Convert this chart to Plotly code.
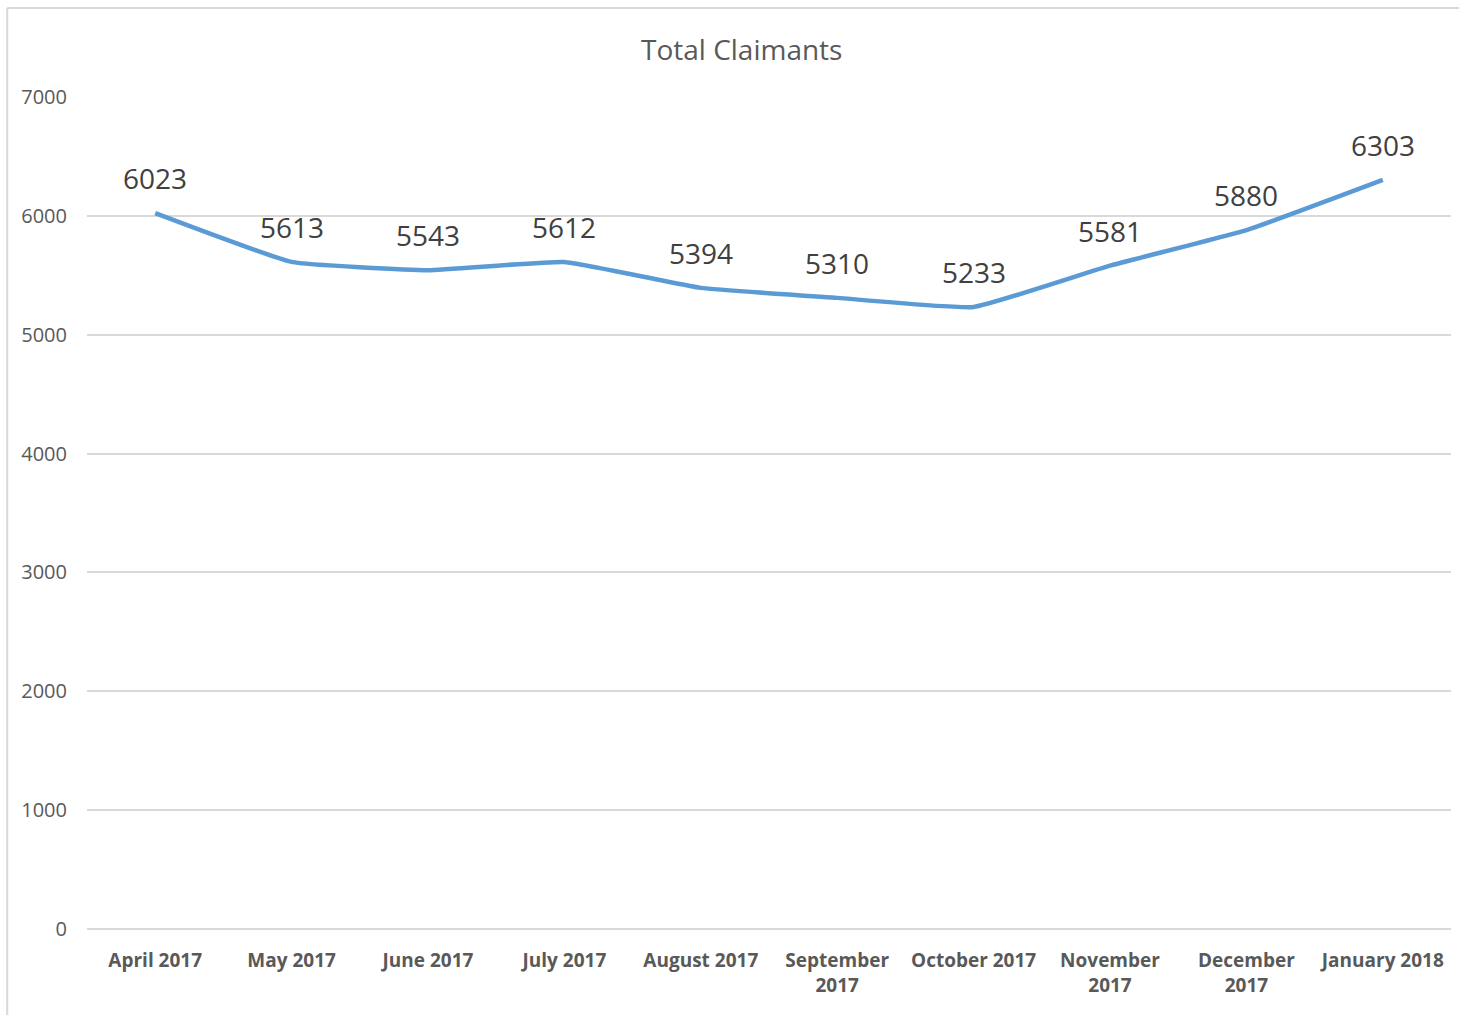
import plotly.graph_objects as go

# Monthly claimant totals
months = ["April 2017", "May 2017", "June 2017", "July 2017", "August 2017",
          "September<br>2017", "October 2017", "November<br>2017",
          "December<br>2017", "January 2018"]
claimants = [6023, 5613, 5543, 5612, 5394, 5310, 5233, 5581, 5880, 6303]
y_ticks = [0, 1000, 2000, 3000, 4000, 5000, 6000, 7000]

LINE_BLUE = "#5B9BD5"
GRID = "#D9D9D9"
TEXT = "#595959"
FONT = "Open Sans, Liberation Sans, sans-serif"

fig = go.Figure()
fig.add_trace(go.Scatter(
    x=months, y=claimants, mode="lines",
    line=dict(color=LINE_BLUE, width=4.5, shape="spline", smoothing=0.35),
    hoverinfo="x+y", showlegend=False,
))

# Value labels above each point
for m, v in zip(months, claimants):
    fig.add_annotation(x=m, y=v, text=str(v), showarrow=False, yshift=35,
                       font=dict(family=FONT, size=28, color="#404040"))

fig.update_layout(
    width=1463, height=1015,
    margin=dict(l=87, r=12, t=97, b=86),
    paper_bgcolor="white", plot_bgcolor="white",
    title=dict(text="Total Claimants", x=0.48, xref="paper", y=0.951,
               yanchor="middle", xanchor="center",
               font=dict(family=FONT, size=28, color=TEXT)),
    font=dict(family=FONT, color=TEXT),
    xaxis=dict(showgrid=False, showline=False, zeroline=False,
               automargin=False, range=[-0.5, len(months) - 0.5],
               tickfont=dict(family=FONT, size=19, color=TEXT, weight="bold"),
               ticklabelstandoff=18, tickangle=0),
    yaxis=dict(range=[0, 7000], tickvals=y_ticks, showgrid=True,
               gridcolor=GRID, gridwidth=2, zeroline=True, zerolinecolor=GRID,
               zerolinewidth=2, showline=False, automargin=False,
               tickfont=dict(family=FONT, size=20, color=TEXT),
               ticklabelstandoff=19),
    shapes=[
        # chart frame: top and left edges
        dict(type="line", xref="paper", yref="paper",
             x0=-0.0585, x1=1.006, y0=1.107, y1=1.107,
             line=dict(color="#D9D9D9", width=2)),
        dict(type="line", xref="paper", yref="paper",
             x0=-0.0585, x1=-0.0585, y0=-0.11, y1=1.107,
             line=dict(color="#D9D9D9", width=2)),
    ],
)

fig.write_html("out.html")
